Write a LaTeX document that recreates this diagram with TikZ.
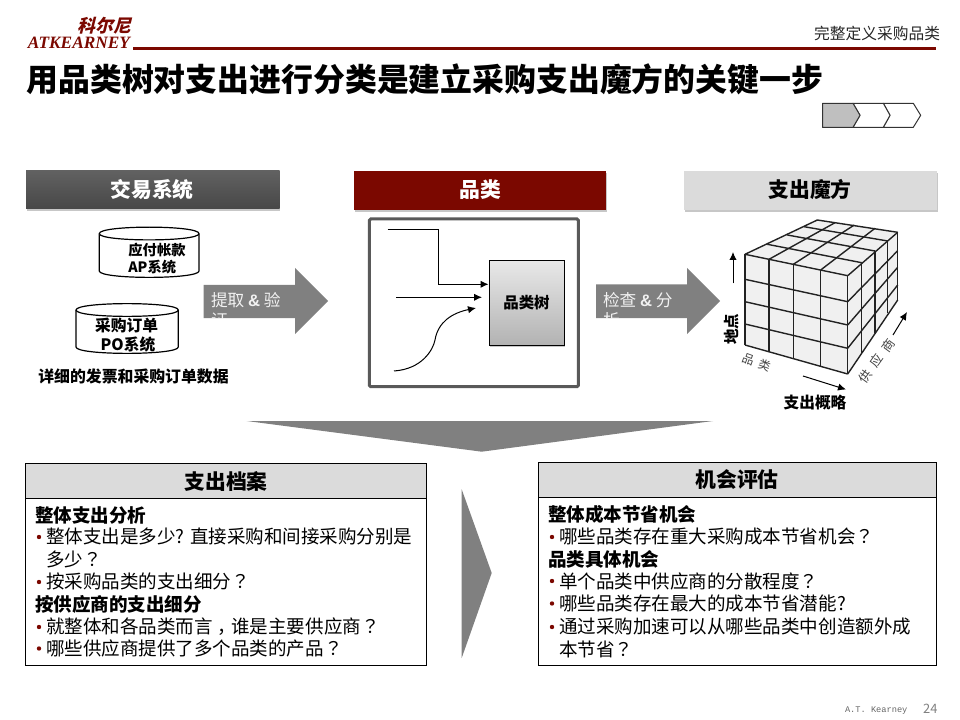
\documentclass[tikz,border=0pt]{standalone}
\usepackage{fontspec}
\setmainfont{Noto Sans CJK SC}
\newfontfamily\slantcjk[FakeSlant=0.25]{Noto Sans CJK SC}
\newfontfamily\jpcjk{Noto Sans CJK JP}
\newfontfamily\logolatin{Liberation Serif}
\newfontfamily\footmono{Liberation Mono}
\newfontfamily\arialike{Liberation Sans}
\usetikzlibrary{arrows.meta,shadows}
\definecolor{brandred}{HTML}{7B0800}
\definecolor{arrowgray}{HTML}{808080}
\definecolor{headgray}{HTML}{DBDBDB}
\definecolor{cubeline}{HTML}{222222}
\newcommand{\fs}[1]{\fontsize{#1}{#1}\selectfont}
\newcommand{\qmk}{{\jpcjk ？}}
\newcommand{\cmk}{\hspace{.25em}，\hspace{-.25em}}
\newcommand{\amp}{{\arialike\bfseries\&}}
\tikzset{
  lbl/.style={inner sep=0pt,outer sep=0pt,text=black},
  barshadow/.style={drop shadow={shadow xshift=.6pt,shadow yshift=-1.2pt,opacity=.22,fill=black}},
  thinarrow/.style={draw=black,line width=.75pt,-{Latex[length=6pt,width=5.5pt]}},
  bigarrow/.style={fill=arrowgray,draw=none},
  arrowtxt/.style={lbl,anchor=west,text=white!95!black,font=\fs{12.5}},
  panelhead/.style={draw=black,line width=.75pt,fill=headgray},
  panelbody/.style={draw=black,line width=.75pt,fill=white},
  headtxt/.style={lbl,font=\fs{15.6}\bfseries},
  subhead/.style={lbl,anchor=west,font=\fs{13.9}\bfseries},
  bodytxt/.style={lbl,anchor=west,font=\fs{13.9}},
  bul/.style={fill=brandred,draw=none},
  cyl/.style={draw=black,line width=.9pt,fill=white},
  cubeln/.style={draw=cubeline,line width=1.05pt,line join=round},
  chev/.style={draw=black!80,line width=.75pt,line join=round}
}
\begin{document}
\begin{tikzpicture}[x=0.75pt,y=-0.75pt]
\useasboundingbox (0,0) rectangle (960,720);
% logo and title
\node[lbl,anchor=center,text=brandred,font=\slantcjk\fs{13.4}\bfseries] (logocn) at (104.5,26) {科尔尼};
\node[lbl,anchor=center,text=brandred,font=\logolatin\fs{13}\bfseries\itshape] (logoen) at (79,43) {ATKEARNEY};
\fill[brandred] (133,46.6) rectangle (936,49.6);
\node[lbl,anchor=east,text=black!85,font=\fs{11.8}] (crumb) at (940,33) {完整定义采购品类};
\node[lbl,anchor=west,font=\fs{23.9}\bfseries] (title) at (26.5,79.5) {用品类树对支出进行分类是建立采购支出魔方的关键一步};
% chevrons
\draw[chev,fill=white] (883.3,103.3) -- (913.3,103.3) -- (920.7,115.3) -- (913.3,127.3) -- (883.3,127.3) -- (890,115.3) -- cycle;
\draw[chev,fill=white] (853,103.3) -- (883.3,103.3) -- (890,115.3) -- (883.3,127.3) -- (853,127.3) -- (860,115.3) -- cycle;
\draw[chev,fill=black!25] (822.5,103.3) -- (853,103.3) -- (860,115.3) -- (853,127.3) -- (822.5,127.3) -- cycle;
% header bars
\path[barshadow,top color=black!62,bottom color=black!72] (26,171) rectangle (279.5,209);
\node[headtxt,text=white] (h1) at (152,190) {交易系统};
\path[barshadow,fill=brandred] (354,171) rectangle (606,210);
\node[headtxt,text=white] (h2) at (480,190) {品类};
\path[barshadow,fill=headgray] (684,171) rectangle (937,210);
\node[headtxt] (h3) at (810,190) {支出魔方};
% cylinders
\draw[cyl] (99.3,233.6) -- (99.3,271) .. controls (99.3,279.5) and (199,279.5) .. (199,271) -- (199,233.6) .. controls (199,225) and (99.3,225) .. (99.3,233.6) -- cycle;
\draw[cyl] (99.3,233.6) .. controls (99.3,242) and (199,242) .. (199,233.6);
\node[lbl,font=\fs{10.7}\bfseries] (ap1) at (157,250) {应付帐款};
\node[lbl,anchor=west,font=\fs{10.7}\bfseries] (ap2) at (128.3,267) {AP系统};
\draw[cyl] (76,310) -- (76,347) .. controls (76,355.5) and (178.3,355.5) .. (178.3,347) -- (178.3,310) .. controls (178.3,301.5) and (76,301.5) .. (76,310) -- cycle;
\draw[cyl] (76,310) .. controls (76,318.5) and (178.3,318.5) .. (178.3,310);
\node[lbl,font=\fs{11.8}\bfseries] (po1) at (126.7,325) {采购订单};
\node[lbl,font=\fs{11.8}\bfseries] (po2) at (128,345) {PO系统};
\node[lbl,font=\fs{11.9}\bfseries] (detail) at (133.5,376) {详细的发票和采购订单数据};
% big arrow 1
\fill[arrowgray] (203.5,285) -- (295,285) -- (295,268) -- (328,301) -- (295,334) -- (295,318) -- (203.5,318) -- cycle;
\node[arrowtxt] (a1a) at (211,300) {提取 \amp{} 验};
\begin{scope}
\clip (203.5,285) rectangle (295,318);
\node[arrowtxt] (a1b) at (211,320.5) {证};
\end{scope}
% category tree frame
\draw[draw=black!65,line width=2.25pt,rounded corners=1pt,fill=white] (369.3,219) rectangle (578.3,386.7);
\node[draw=black,line width=.75pt,top color=black!9,bottom color=black!30,minimum width=56.25pt,minimum height=63pt,inner sep=0pt,
  drop shadow={shadow xshift=.6pt,shadow yshift=-1.2pt,opacity=.22,fill=black},font=\fs{11.6}\bfseries] (tree) at (526.5,303) {品类树};
\coordinate (s1) at (387.7,229.3);
\coordinate (bend1) at (438.7,229.3);
\coordinate (bend2) at (438.7,284.3);
\coordinate (s2) at (396,297.3);
\coordinate (e2) at (482,297.3);
\coordinate (s3) at (394,371);
\coordinate (m3) at (435,340);
\coordinate (e3) at (476,308);
\draw[thinarrow] (s1) -- (bend1) -- (bend2) -- (tree.west |- bend2);
\draw[thinarrow] (s2) -- (e2);
\draw[thinarrow] (s3) .. controls (422,369) and (433,350) .. (m3) .. controls (438,322) and (452,313) .. (e3);
% big arrow 2
\fill[arrowgray] (596,284.5) -- (687,284.5) -- (687,268) -- (720,301) -- (687,334) -- (687,318) -- (596,318) -- cycle;
\node[arrowtxt] (a2a) at (603,300) {检查 \amp{} 分};
\begin{scope}
\clip (596,284.5) rectangle (687,318);
\node[arrowtxt] (a2b) at (603,320.5) {析};
\end{scope}
% cube
\fill[black!6] (745,254.3) -- (817.3,220) -- (897.5,232.3) -- (897.5,300) -- (848,374) -- (745,345) -- cycle;
% front face verticals
\foreach \xa/\ya/\yb in {745/254.3/345,769/259.3/352,793.3/264.3/359,820.7/270/366.5,847.7/275.7/374}
  \draw[cubeln] (\xa,\ya) -- (\xa,\yb);
% front face rows
\draw[cubeln] (745,254.3) -- (847.7,275.7);
\draw[cubeln] (745,279.3) -- (847.7,301.7);
\draw[cubeln] (745,301.7) -- (847.7,325);
\draw[cubeln] (745,324) -- (847.7,348.3);
\draw[cubeln] (745,345) -- (847.7,374);
% right face verticals
\foreach \xa/\ya/\yb in {861.7/262.7/353.3,875/251/333.3,887.7/241/313.3,897.7/232.3/300}
  \draw[cubeln] (\xa,\ya) -- (\xa,\yb);
% right face rows
\draw[cubeln] (847.7,275.7) -- (897.7,232.3);
\draw[cubeln] (847.7,301.7) -- (897.7,250.7);
\draw[cubeln] (847.7,325) -- (897.7,267.3);
\draw[cubeln] (847.7,348.3) -- (897.7,285);
\draw[cubeln] (847.7,374) -- (897.7,300);
% top face
\draw[cubeln] (745,254.3) -- (817.3,220) -- (897.7,232.3);
\draw[cubeln] (769,259.3) -- (835,222.7);
\draw[cubeln] (793.3,264.3) -- (854.3,225);
\draw[cubeln] (820.7,270) -- (875,228.3);
\draw[cubeln] (767.3,244.3) -- (861.7,262.7);
\draw[cubeln] (787.3,235) -- (875,251);
\draw[cubeln] (804,226.7) -- (887.7,241);
% cube arrows and labels
\coordinate (upa) at (733,283.5);
\coordinate (upb) at (733,252);
\coordinate (dna) at (803,376);
\coordinate (dnb) at (846,389.5);
\coordinate (ria) at (893,335);
\coordinate (rib) at (907,312);
\draw[thinarrow] (upa) -- (upb);
\draw[thinarrow] (dna) -- (dnb);
\draw[thinarrow] (ria) -- (rib);
\node[lbl,rotate=90,font=\fs{11.6}\bfseries] (locl) at (731.5,329.5) {地点};
\node[lbl,rotate=-20,text=black!75,font=\fs{9}] (catl) at (756.5,362.5) {品\hspace{4pt}类};
\node[lbl,rotate=54,text=black!75,font=\fs{9.5}] (supl) at (876.5,361) {供\hspace{5pt}应\hspace{5pt}商};
\node[lbl,font=\fs{11.8}\bfseries] (sumL) at (815,403) {支出概略};
% big down and right arrows
\fill[arrowgray] (246.7,421) -- (713,421) -- (481.7,451.7) -- cycle;
\fill[arrowgray] (461.7,489.3) -- (491.7,573) -- (461.7,658) -- cycle;
% left panel
\draw[panelbody] (25.7,463.3) rectangle (426.7,665.7);
\draw[panelhead] (25.7,463.3) rectangle (426.7,498.3);
\node[headtxt] (p1h) at (226,481) {支出档案};
\node[subhead] (p1a) at (35,515) {整体支出分析};
\fill[bul] (39,537) circle (2.2);
\node[bodytxt] (p1b) at (46,536.7) {整体支出是多少? 直接采购和间接采购分别是};
\node[bodytxt] (p1c) at (46,559) {多少\qmk};
\fill[bul] (39,582) circle (2.2);
\node[bodytxt] (p1d) at (46,581.7) {按采购品类的支出细分\qmk};
\node[subhead] (p1e) at (35,604) {按供应商的支出细分};
\fill[bul] (39,627) circle (2.2);
\node[bodytxt] (p1f) at (46,626.7) {就整体和各品类而言\cmk 谁是主要供应商\qmk};
\fill[bul] (39,648.5) circle (2.2);
\node[bodytxt] (p1g) at (46,648.3) {哪些供应商提供了多个品类的产品\qmk};
% right panel
\draw[panelbody] (538.7,462.3) rectangle (936.7,665.7);
\draw[panelhead] (538.7,462.3) rectangle (936.7,497.3);
\node[headtxt] (p2h) at (737,479.5) {机会评估};
\node[subhead] (p2a) at (548,514.3) {整体成本节省机会};
\fill[bul] (552,537) circle (2.2);
\node[bodytxt] (p2b) at (559,536.7) {哪些品类存在重大采购成本节省机会\qmk};
\node[subhead] (p2c) at (548,559) {品类具体机会};
\fill[bul] (552,581) circle (2.2);
\node[bodytxt] (p2d) at (559,581) {单个品类中供应商的分散程度\qmk};
\fill[bul] (552,603.5) circle (2.2);
\node[bodytxt] (p2e) at (559,603.3) {哪些品类存在最大的成本节省潜能?};
\fill[bul] (552,627) circle (2.2);
\node[bodytxt] (p2f) at (559,626.7) {通过采购加速可以从哪些品类中创造额外成};
\node[bodytxt] (p2g) at (559,649) {本节省\qmk};
% footer
\node[lbl,anchor=west,text=black!60,font=\footmono\fs{6.5}] (foot) at (845,711) {A.T. Kearney};
\node[lbl,anchor=east,text=black!50,font=\fs{9.7}] (page) at (937.5,709) {24};
\end{tikzpicture}
\end{document}
